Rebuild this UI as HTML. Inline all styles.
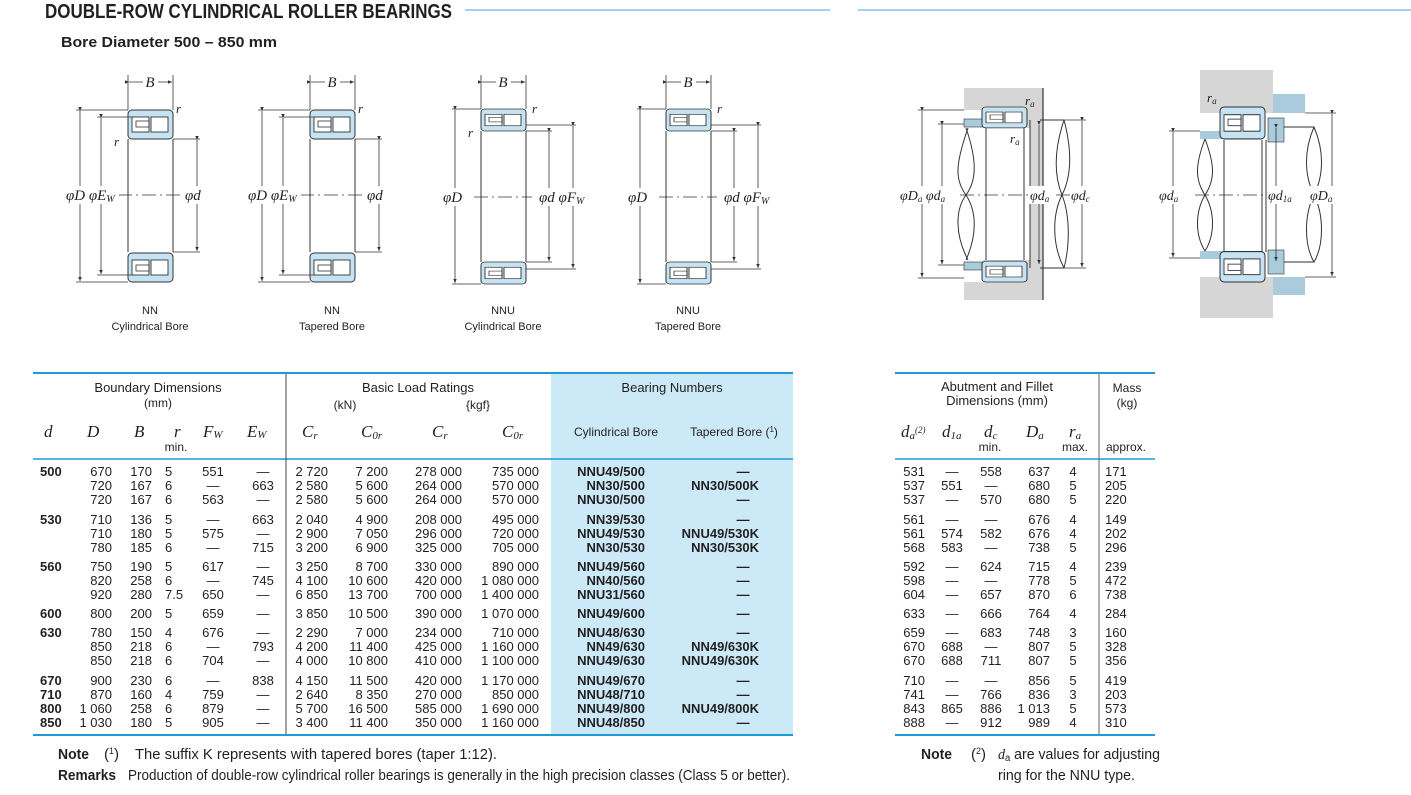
<!DOCTYPE html>
<html><head><meta charset="utf-8"><style>
html,body{margin:0;padding:0;background:#fff;}
svg{display:block;}
text{font-family:"Liberation Sans",Arial,sans-serif;fill:#231f20;}
.t{font-size:13px;}
.e{text-anchor:end;}
.m{text-anchor:middle;}
.b{font-weight:bold;}
text.s,.s text,.s tspan,tspan.s{font-family:"Liberation Serif",serif;font-style:italic;}
.h{font-size:13px;}
.c{font-size:11px;text-anchor:middle;}
.dl{stroke:#333;stroke-width:0.8;fill:none;}
.ln{stroke:#333;stroke-width:1;fill:none;}
</style></head><body>
<svg width="1411" height="795" viewBox="0 0 1411 795" xmlns="http://www.w3.org/2000/svg">
<defs>
<g id="rt">
<rect x="0" y="0" width="45" height="29" rx="4" fill="#c6e3f3" stroke="#333" stroke-width="1"/>
<rect x="4" y="7" width="17" height="15" fill="#fff" stroke="#333" stroke-width="0.9"/>
<rect x="23" y="7" width="17" height="15" fill="#fff" stroke="#333" stroke-width="0.9"/>
<rect x="8" y="11" width="13" height="6" fill="none" stroke="#333" stroke-width="0.8"/>
</g>
<marker id="ar" markerWidth="6" markerHeight="6" refX="5" refY="3" orient="auto"><path d="M0,0.8 L5,3 L0,5.2z" fill="#333"/></marker>
</defs>

<!-- Title -->
<text x="45" y="18" font-size="20" class="b" textLength="407" lengthAdjust="spacingAndGlyphs">DOUBLE-ROW CYLINDRICAL ROLLER BEARINGS</text>
<line x1="465" y1="10" x2="830" y2="10" stroke="#3fa9e0" stroke-width="1"/>
<line x1="858" y1="10" x2="1411" y2="10" stroke="#3fa9e0" stroke-width="1"/>
<text x="61" y="47" font-size="15" class="b" textLength="216" lengthAdjust="spacingAndGlyphs">Bore Diameter   500 – 850 mm</text>

<!-- Bearing 1 NN cyl -->
<g>
<use href="#rt" x="128" y="110"/>
<g transform="translate(128,282) scale(1,-1)"><use href="#rt"/></g>
<line class="ln" x1="128" y1="139" x2="128" y2="252"/><line class="ln" x1="173" y1="139" x2="173" y2="252"/>
<line class="dl" x1="128" y1="75" x2="128" y2="110"/><line class="dl" x1="173" y1="75" x2="173" y2="110"/>
<line class="dl" x1="129" y1="82" x2="172" y2="82" marker-end="url(#ar)" marker-start="url(#ar)"/>
<rect x="143" y="74" width="15" height="14" fill="#fff"/><text x="150" y="87" class="s m" font-size="15">B</text>
<line class="dl" x1="76" y1="110" x2="128" y2="110"/><line class="dl" x1="76" y1="282" x2="128" y2="282"/>
<line class="dl" x1="80" y1="111" x2="80" y2="281" marker-end="url(#ar)" marker-start="url(#ar)"/>
<line class="dl" x1="97" y1="117" x2="133" y2="117"/><line class="dl" x1="97" y1="275" x2="133" y2="275"/>
<line class="dl" x1="101" y1="118" x2="101" y2="274" marker-end="url(#ar)" marker-start="url(#ar)"/>
<line class="dl" x1="173" y1="139" x2="200" y2="139"/><line class="dl" x1="173" y1="252" x2="200" y2="252"/>
<line class="dl" x1="197" y1="140" x2="197" y2="251" marker-end="url(#ar)" marker-start="url(#ar)"/>
<line class="dl" x1="118" y1="195" x2="183" y2="195" stroke-dasharray="14,4,2,4"/>
<rect x="64" y="186" width="55" height="18" fill="#fff"/><text x="66" y="200" class="s" font-size="15">φD φE<tspan font-size="10" dy="2">W</tspan></text>
<rect x="183" y="186" width="25" height="18" fill="#fff"/><text x="185" y="200" class="s" font-size="15">φd</text>
<text x="176" y="113" class="s" font-size="13">r</text><text x="114" y="146" class="s" font-size="13">r</text>
<text x="150" y="314" class="c">NN</text><text x="150" y="330" class="c">Cylindrical Bore</text>
</g>
<!-- Bearing 2 NN tapered -->
<g transform="translate(182,0)">
<use href="#rt" x="128" y="110"/>
<g transform="translate(128,282) scale(1,-1)"><use href="#rt"/></g>
<line class="ln" x1="128" y1="139" x2="128" y2="252"/><line class="ln" x1="173" y1="139" x2="173" y2="252"/>
<line class="dl" x1="128" y1="75" x2="128" y2="110"/><line class="dl" x1="173" y1="75" x2="173" y2="110"/>
<line class="dl" x1="129" y1="82" x2="172" y2="82" marker-end="url(#ar)" marker-start="url(#ar)"/>
<rect x="143" y="74" width="15" height="14" fill="#fff"/><text x="150" y="87" class="s m" font-size="15">B</text>
<line class="dl" x1="76" y1="110" x2="128" y2="110"/><line class="dl" x1="76" y1="282" x2="128" y2="282"/>
<line class="dl" x1="80" y1="111" x2="80" y2="281" marker-end="url(#ar)" marker-start="url(#ar)"/>
<line class="dl" x1="97" y1="117" x2="133" y2="117"/><line class="dl" x1="97" y1="275" x2="133" y2="275"/>
<line class="dl" x1="101" y1="118" x2="101" y2="274" marker-end="url(#ar)" marker-start="url(#ar)"/>
<line class="dl" x1="173" y1="139" x2="200" y2="139"/><line class="dl" x1="173" y1="252" x2="200" y2="252"/>
<line class="dl" x1="197" y1="140" x2="197" y2="251" marker-end="url(#ar)" marker-start="url(#ar)"/>
<line class="dl" x1="118" y1="195" x2="183" y2="195" stroke-dasharray="14,4,2,4"/>
<rect x="64" y="186" width="55" height="18" fill="#fff"/><text x="66" y="200" class="s" font-size="15">φD φE<tspan font-size="10" dy="2">W</tspan></text>
<rect x="183" y="186" width="25" height="18" fill="#fff"/><text x="185" y="200" class="s" font-size="15">φd</text>
<text x="176" y="113" class="s" font-size="13">r</text>
<text x="150" y="314" class="c">NN</text><text x="150" y="330" class="c">Tapered Bore</text>
</g>
<!-- Bearing 3 NNU cyl -->
<g>
<g transform="translate(481,109) scale(1,0.76)"><use href="#rt"/></g>
<g transform="translate(481,284) scale(1,-0.76)"><use href="#rt"/></g>
<line class="ln" x1="481" y1="131" x2="481" y2="262"/><line class="ln" x1="526" y1="131" x2="526" y2="262"/>
<line class="dl" x1="481" y1="75" x2="481" y2="109"/><line class="dl" x1="526" y1="75" x2="526" y2="109"/>
<line class="dl" x1="482" y1="82" x2="525" y2="82" marker-end="url(#ar)" marker-start="url(#ar)"/>
<rect x="496" y="74" width="15" height="14" fill="#fff"/><text x="503" y="87" class="s m" font-size="15">B</text>
<line class="dl" x1="452" y1="109" x2="481" y2="109"/><line class="dl" x1="452" y1="284" x2="481" y2="284"/>
<line class="dl" x1="455" y1="110" x2="455" y2="283" marker-end="url(#ar)" marker-start="url(#ar)"/>
<line class="dl" x1="526" y1="131" x2="552" y2="131"/><line class="dl" x1="526" y1="262" x2="552" y2="262"/>
<line class="dl" x1="549" y1="132" x2="549" y2="261" marker-end="url(#ar)" marker-start="url(#ar)"/>
<line class="dl" x1="526" y1="125" x2="576" y2="125"/><line class="dl" x1="526" y1="269" x2="576" y2="269"/>
<line class="dl" x1="573" y1="126" x2="573" y2="268" marker-end="url(#ar)" marker-start="url(#ar)"/>
<line class="dl" x1="474" y1="197" x2="532" y2="197" stroke-dasharray="14,4,2,4"/>
<rect x="442" y="188" width="28" height="18" fill="#fff"/><text x="443" y="202" class="s" font-size="15">φD</text>
<rect x="538" y="188" width="55" height="18" fill="#fff"/><text x="539" y="202" class="s" font-size="15">φd φF<tspan font-size="10" dy="2">W</tspan></text>
<text x="532" y="113" class="s" font-size="13">r</text><text x="468" y="137" class="s" font-size="13">r</text>
<text x="503" y="314" class="c">NNU</text><text x="503" y="330" class="c">Cylindrical Bore</text>
</g>
<!-- Bearing 4 NNU tapered -->
<g transform="translate(185,0)">
<g transform="translate(481,109) scale(1,0.76)"><use href="#rt"/></g>
<g transform="translate(481,284) scale(1,-0.76)"><use href="#rt"/></g>
<line class="ln" x1="481" y1="131" x2="481" y2="262"/><line class="ln" x1="526" y1="131" x2="526" y2="262"/>
<line class="dl" x1="481" y1="75" x2="481" y2="109"/><line class="dl" x1="526" y1="75" x2="526" y2="109"/>
<line class="dl" x1="482" y1="82" x2="525" y2="82" marker-end="url(#ar)" marker-start="url(#ar)"/>
<rect x="496" y="74" width="15" height="14" fill="#fff"/><text x="503" y="87" class="s m" font-size="15">B</text>
<line class="dl" x1="452" y1="109" x2="481" y2="109"/><line class="dl" x1="452" y1="284" x2="481" y2="284"/>
<line class="dl" x1="455" y1="110" x2="455" y2="283" marker-end="url(#ar)" marker-start="url(#ar)"/>
<line class="dl" x1="526" y1="131" x2="552" y2="131"/><line class="dl" x1="526" y1="262" x2="552" y2="262"/>
<line class="dl" x1="549" y1="132" x2="549" y2="261" marker-end="url(#ar)" marker-start="url(#ar)"/>
<line class="dl" x1="526" y1="125" x2="576" y2="125"/><line class="dl" x1="526" y1="269" x2="576" y2="269"/>
<line class="dl" x1="573" y1="126" x2="573" y2="268" marker-end="url(#ar)" marker-start="url(#ar)"/>
<line class="dl" x1="474" y1="197" x2="532" y2="197" stroke-dasharray="14,4,2,4"/>
<rect x="442" y="188" width="28" height="18" fill="#fff"/><text x="443" y="202" class="s" font-size="15">φD</text>
<rect x="538" y="188" width="55" height="18" fill="#fff"/><text x="539" y="202" class="s" font-size="15">φd φF<tspan font-size="10" dy="2">W</tspan></text>
<text x="532" y="113" class="s" font-size="13">r</text>
<text x="503" y="314" class="c">NNU</text><text x="503" y="330" class="c">Tapered Bore</text>
</g>

<!-- Right figure 1 -->
<g>
<rect x="964" y="88" width="79" height="212" fill="#d6d6d6"/>
<rect x="964" y="128" width="66" height="132" fill="#fff"/>
<rect x="964" y="110" width="19" height="18" fill="#fff"/><rect x="964" y="260" width="19" height="22" fill="#fff"/>
<rect x="964" y="119" width="19" height="8" fill="#a9cbdc" stroke="#333" stroke-width="0.6"/>
<rect x="964" y="262" width="19" height="8" fill="#a9cbdc" stroke="#333" stroke-width="0.6"/>
<line x1="1043" y1="88" x2="1043" y2="300" stroke="#333" stroke-width="1.2"/>
<g transform="translate(982,107) scale(1,0.72)"><use href="#rt"/></g>
<g transform="translate(982,282) scale(1,-0.72)"><use href="#rt"/></g>
<line class="ln" x1="986" y1="128" x2="986" y2="260"/><line class="ln" x1="1024" y1="128" x2="1024" y2="260"/>
<line class="ln" x1="1030" y1="120" x2="1030" y2="268"/>
<path class="ln" d="M968,128 C955,165 955,180 966,195 C977,212 977,235 966,260"/>
<path class="ln" d="M966,128 C977,160 977,180 966,195 C955,210 955,235 968,260"/>
<path class="ln" d="M1040,120 L1064,120 C1072,150 1072,175 1062,195 C1052,215 1052,245 1064,268 L1040,268"/>
<path class="ln" d="M1064,120 C1054,150 1054,175 1062,195 C1070,215 1070,245 1064,268"/>
<line class="dl" x1="918" y1="110" x2="964" y2="110"/><line class="dl" x1="918" y1="278" x2="964" y2="278"/>
<line class="dl" x1="922" y1="111" x2="922" y2="277" marker-end="url(#ar)" marker-start="url(#ar)"/>
<line class="dl" x1="938" y1="124" x2="964" y2="124"/><line class="dl" x1="938" y1="265" x2="964" y2="265"/>
<line class="dl" x1="942" y1="125" x2="942" y2="264" marker-end="url(#ar)" marker-start="url(#ar)"/>
<line class="dl" x1="1039" y1="125" x2="1039" y2="264" marker-end="url(#ar)" marker-start="url(#ar)"/>
<line class="dl" x1="1064" y1="120" x2="1086" y2="120"/><line class="dl" x1="1064" y1="268" x2="1086" y2="268"/>
<line class="dl" x1="1082" y1="121" x2="1082" y2="267" marker-end="url(#ar)" marker-start="url(#ar)"/>
<line class="dl" x1="960" y1="195" x2="1070" y2="195" stroke-dasharray="14,4,2,4"/>
<rect x="898" y="186" width="62" height="18" fill="#fff"/><text x="900" y="200" class="s" font-size="14">φD<tspan font-size="9" dy="2">a</tspan><tspan dy="-2"> φd</tspan><tspan font-size="9" dy="2">a</tspan></text>
<rect x="1028" y="186" width="28" height="18" fill="#fff"/><text x="1030" y="200" class="s" font-size="14">φd<tspan font-size="9" dy="2">a</tspan></text>
<rect x="1070" y="186" width="28" height="18" fill="#fff"/><text x="1071" y="200" class="s" font-size="14">φd<tspan font-size="9" dy="2">c</tspan></text>
<text x="1025" y="105" class="s" font-size="13">r<tspan font-size="9" dy="2">a</tspan></text>
<text x="1010" y="143" class="s" font-size="13">r<tspan font-size="9" dy="2">a</tspan></text>
</g>
<!-- Right figure 2 -->
<g>
<rect x="1200" y="70" width="73" height="43" fill="#d6d6d6"/>
<rect x="1200" y="277" width="73" height="41" fill="#d6d6d6"/>
<rect x="1273" y="94" width="32" height="19" fill="#a9cbdc"/>
<rect x="1273" y="277" width="32" height="18" fill="#a9cbdc"/>
<rect x="1200" y="131" width="22" height="8" fill="#a9cbdc"/><rect x="1200" y="251" width="22" height="8" fill="#a9cbdc"/>
<rect x="1268" y="118" width="16" height="24" fill="#a9cbdc" stroke="#333" stroke-width="0.6"/>
<rect x="1268" y="250" width="16" height="24" fill="#a9cbdc" stroke="#333" stroke-width="0.6"/>
<g transform="translate(1220,107) scale(1,1.1)"><use href="#rt"/></g>
<g transform="translate(1220,282) scale(1,-1.05)"><use href="#rt"/></g>
<line class="ln" x1="1224" y1="140" x2="1224" y2="252"/><line class="ln" x1="1262" y1="140" x2="1262" y2="252"/>
<line class="ln" x1="1266" y1="140" x2="1266" y2="252"/>
<path class="ln" d="M1205,139 C1195,165 1195,180 1205,195 C1215,212 1215,235 1205,251"/>
<path class="ln" d="M1205,139 C1215,165 1215,180 1205,195 C1195,212 1195,235 1205,251"/>
<path class="ln" d="M1284,127 L1314,127 C1324,150 1324,175 1314,195 C1304,215 1304,245 1314,262 L1284,262"/>
<path class="ln" d="M1314,127 C1304,150 1304,175 1314,195 C1324,215 1324,245 1314,262"/>
<line class="dl" x1="1169" y1="131" x2="1200" y2="131"/><line class="dl" x1="1169" y1="258" x2="1200" y2="258"/>
<line class="dl" x1="1173" y1="132" x2="1173" y2="257" marker-end="url(#ar)" marker-start="url(#ar)"/>
<line class="dl" x1="1276" y1="128" x2="1276" y2="261" marker-end="url(#ar)" marker-start="url(#ar)"/>
<line class="dl" x1="1305" y1="113" x2="1336" y2="113"/><line class="dl" x1="1305" y1="277" x2="1336" y2="277"/>
<line class="dl" x1="1332" y1="114" x2="1332" y2="276" marker-end="url(#ar)" marker-start="url(#ar)"/>
<line class="dl" x1="1195" y1="195" x2="1320" y2="195" stroke-dasharray="14,4,2,4"/>
<rect x="1158" y="186" width="28" height="18" fill="#fff"/><text x="1159" y="200" class="s" font-size="14">φd<tspan font-size="9" dy="2">a</tspan></text>
<rect x="1267" y="186" width="38" height="18" fill="#fff"/><text x="1268" y="200" class="s" font-size="14">φd<tspan font-size="9" dy="2">1a</tspan></text>
<rect x="1309" y="186" width="36" height="18" fill="#fff"/><text x="1310" y="200" class="s" font-size="14">φD<tspan font-size="9" dy="2">a</tspan></text>
<text x="1207" y="102" class="s" font-size="13">r<tspan font-size="9" dy="2">a</tspan></text>
</g>

<!-- Left table frame -->
<rect x="551" y="374" width="242" height="361" fill="#cce9f8"/>
<line x1="33" y1="373" x2="793" y2="373" stroke="#1e9ad6" stroke-width="2"/>
<line x1="33" y1="459" x2="793" y2="459" stroke="#1e9ad6" stroke-width="1.5"/>
<line x1="33" y1="735" x2="793" y2="735" stroke="#1e9ad6" stroke-width="2"/>
<line x1="286" y1="374" x2="286" y2="734" stroke="#444" stroke-width="1"/>
<!-- Right table frame -->
<line x1="895" y1="373" x2="1155" y2="373" stroke="#1e9ad6" stroke-width="2"/>
<line x1="895" y1="459" x2="1155" y2="459" stroke="#1e9ad6" stroke-width="1.5"/>
<line x1="895" y1="735" x2="1155" y2="735" stroke="#1e9ad6" stroke-width="2"/>
<line x1="1099" y1="374" x2="1099" y2="734" stroke="#666" stroke-width="1"/>

<!-- headers -->
<g class="h">
<text x="158" y="392" class="m" font-size="13">Boundary Dimensions</text>
<text x="158" y="407" class="m" font-size="12">(mm)</text>
<text x="418" y="392" class="m" font-size="13">Basic Load Ratings</text>
<text x="345" y="409" class="m" font-size="12">(kN)</text>
<text x="478" y="409" class="m" font-size="12">{kgf}</text>
<text x="672" y="392" class="m" font-size="13">Bearing Numbers</text>
<text x="616" y="436" class="m" font-size="12">Cylindrical Bore</text>
<text x="734" y="436" class="m" font-size="12">Tapered Bore (<tspan font-size="8" dy="-4">1</tspan><tspan dy="4">)</tspan></text>
<text x="997" y="391" class="m" font-size="13">Abutment and Fillet</text>
<text x="997" y="405" class="m" font-size="13">Dimensions (mm)</text>
<text x="1127" y="392" class="m" font-size="12">Mass</text>
<text x="1127" y="407" class="m" font-size="12">(kg)</text>
</g>
<g class="s" font-size="17">
<text x="44" y="437">d</text><text x="87" y="437">D</text><text x="134" y="437">B</text><text x="174" y="437">r</text>
<text x="203" y="437">F<tspan font-size="11" dy="1">W</tspan></text>
<text x="247" y="437">E<tspan font-size="11" dy="1">W</tspan></text>
<text x="302" y="437">C<tspan font-size="11" dy="2">r</tspan></text>
<text x="361" y="437">C<tspan font-size="11" dy="2">0r</tspan></text>
<text x="432" y="437">C<tspan font-size="11" dy="2">r</tspan></text>
<text x="502" y="437">C<tspan font-size="11" dy="2">0r</tspan></text>
<text x="901" y="437">d<tspan font-size="11" dy="2">a</tspan><tspan font-size="9" dy="-6" font-style="normal">(2)</tspan></text>
<text x="942" y="437">d<tspan font-size="11" dy="2">1a</tspan></text>
<text x="984" y="437">d<tspan font-size="11" dy="2">c</tspan></text>
<text x="1026" y="437">D<tspan font-size="11" dy="2">a</tspan></text>
<text x="1069" y="437">r<tspan font-size="11" dy="2">a</tspan></text>
</g>
<text x="176" y="451" class="m" font-size="12">min.</text>
<text x="990" y="451" class="m" font-size="12">min.</text>
<text x="1075" y="451" class="m" font-size="12">max.</text>
<text x="1126" y="451" class="m" font-size="12">approx.</text>

<!-- data -->
<g class="t">
<text x="40" y="476" class="b">500</text><text x="112" y="476" class="e">670</text><text x="152" y="476" class="e">170</text><text x="165" y="476">5</text><text x="213" y="476" class="m">551</text><text x="263" y="476" class="m">—</text><text x="328" y="476" class="e">2 720</text><text x="388" y="476" class="e">7 200</text><text x="462" y="476" class="e">278 000</text><text x="539" y="476" class="e">735 000</text><text x="645" y="476" class="e b">NNU49/500</text><text x="743" y="476" class="m b">—</text><text x="925" y="476" class="e">531</text><text x="952" y="476" class="m">—</text><text x="991" y="476" class="m">558</text><text x="1050" y="476" class="e">637</text><text x="1073" y="476" class="m">4</text><text x="1105" y="476">171</text>
<text x="112" y="490" class="e">720</text><text x="152" y="490" class="e">167</text><text x="165" y="490">6</text><text x="213" y="490" class="m">—</text><text x="263" y="490" class="m">663</text><text x="328" y="490" class="e">2 580</text><text x="388" y="490" class="e">5 600</text><text x="462" y="490" class="e">264 000</text><text x="539" y="490" class="e">570 000</text><text x="645" y="490" class="e b">NN30/500</text><text x="759" y="490" class="e b">NN30/500K</text><text x="925" y="490" class="e">537</text><text x="952" y="490" class="m">551</text><text x="991" y="490" class="m">—</text><text x="1050" y="490" class="e">680</text><text x="1073" y="490" class="m">5</text><text x="1105" y="490">205</text>
<text x="112" y="504" class="e">720</text><text x="152" y="504" class="e">167</text><text x="165" y="504">6</text><text x="213" y="504" class="m">563</text><text x="263" y="504" class="m">—</text><text x="328" y="504" class="e">2 580</text><text x="388" y="504" class="e">5 600</text><text x="462" y="504" class="e">264 000</text><text x="539" y="504" class="e">570 000</text><text x="645" y="504" class="e b">NNU30/500</text><text x="743" y="504" class="m b">—</text><text x="925" y="504" class="e">537</text><text x="952" y="504" class="m">—</text><text x="991" y="504" class="m">570</text><text x="1050" y="504" class="e">680</text><text x="1073" y="504" class="m">5</text><text x="1105" y="504">220</text>

<text x="40" y="524" class="b">530</text><text x="112" y="524" class="e">710</text><text x="152" y="524" class="e">136</text><text x="165" y="524">5</text><text x="213" y="524" class="m">—</text><text x="263" y="524" class="m">663</text><text x="328" y="524" class="e">2 040</text><text x="388" y="524" class="e">4 900</text><text x="462" y="524" class="e">208 000</text><text x="539" y="524" class="e">495 000</text><text x="645" y="524" class="e b">NN39/530</text><text x="743" y="524" class="m b">—</text><text x="925" y="524" class="e">561</text><text x="952" y="524" class="m">—</text><text x="991" y="524" class="m">—</text><text x="1050" y="524" class="e">676</text><text x="1073" y="524" class="m">4</text><text x="1105" y="524">149</text>
<text x="112" y="538" class="e">710</text><text x="152" y="538" class="e">180</text><text x="165" y="538">5</text><text x="213" y="538" class="m">575</text><text x="263" y="538" class="m">—</text><text x="328" y="538" class="e">2 900</text><text x="388" y="538" class="e">7 050</text><text x="462" y="538" class="e">296 000</text><text x="539" y="538" class="e">720 000</text><text x="645" y="538" class="e b">NNU49/530</text><text x="759" y="538" class="e b">NNU49/530K</text><text x="925" y="538" class="e">561</text><text x="952" y="538" class="m">574</text><text x="991" y="538" class="m">582</text><text x="1050" y="538" class="e">676</text><text x="1073" y="538" class="m">4</text><text x="1105" y="538">202</text>
<text x="112" y="552" class="e">780</text><text x="152" y="552" class="e">185</text><text x="165" y="552">6</text><text x="213" y="552" class="m">—</text><text x="263" y="552" class="m">715</text><text x="328" y="552" class="e">3 200</text><text x="388" y="552" class="e">6 900</text><text x="462" y="552" class="e">325 000</text><text x="539" y="552" class="e">705 000</text><text x="645" y="552" class="e b">NN30/530</text><text x="759" y="552" class="e b">NN30/530K</text><text x="925" y="552" class="e">568</text><text x="952" y="552" class="m">583</text><text x="991" y="552" class="m">—</text><text x="1050" y="552" class="e">738</text><text x="1073" y="552" class="m">5</text><text x="1105" y="552">296</text>

<text x="40" y="571" class="b">560</text><text x="112" y="571" class="e">750</text><text x="152" y="571" class="e">190</text><text x="165" y="571">5</text><text x="213" y="571" class="m">617</text><text x="263" y="571" class="m">—</text><text x="328" y="571" class="e">3 250</text><text x="388" y="571" class="e">8 700</text><text x="462" y="571" class="e">330 000</text><text x="539" y="571" class="e">890 000</text><text x="645" y="571" class="e b">NNU49/560</text><text x="743" y="571" class="m b">—</text><text x="925" y="571" class="e">592</text><text x="952" y="571" class="m">—</text><text x="991" y="571" class="m">624</text><text x="1050" y="571" class="e">715</text><text x="1073" y="571" class="m">4</text><text x="1105" y="571">239</text>
<text x="112" y="585" class="e">820</text><text x="152" y="585" class="e">258</text><text x="165" y="585">6</text><text x="213" y="585" class="m">—</text><text x="263" y="585" class="m">745</text><text x="328" y="585" class="e">4 100</text><text x="388" y="585" class="e">10 600</text><text x="462" y="585" class="e">420 000</text><text x="539" y="585" class="e">1 080 000</text><text x="645" y="585" class="e b">NN40/560</text><text x="743" y="585" class="m b">—</text><text x="925" y="585" class="e">598</text><text x="952" y="585" class="m">—</text><text x="991" y="585" class="m">—</text><text x="1050" y="585" class="e">778</text><text x="1073" y="585" class="m">5</text><text x="1105" y="585">472</text>
<text x="112" y="599" class="e">920</text><text x="152" y="599" class="e">280</text><text x="165" y="599">7.5</text><text x="213" y="599" class="m">650</text><text x="263" y="599" class="m">—</text><text x="328" y="599" class="e">6 850</text><text x="388" y="599" class="e">13 700</text><text x="462" y="599" class="e">700 000</text><text x="539" y="599" class="e">1 400 000</text><text x="645" y="599" class="e b">NNU31/560</text><text x="743" y="599" class="m b">—</text><text x="925" y="599" class="e">604</text><text x="952" y="599" class="m">—</text><text x="991" y="599" class="m">657</text><text x="1050" y="599" class="e">870</text><text x="1073" y="599" class="m">6</text><text x="1105" y="599">738</text>

<text x="40" y="618" class="b">600</text><text x="112" y="618" class="e">800</text><text x="152" y="618" class="e">200</text><text x="165" y="618">5</text><text x="213" y="618" class="m">659</text><text x="263" y="618" class="m">—</text><text x="328" y="618" class="e">3 850</text><text x="388" y="618" class="e">10 500</text><text x="462" y="618" class="e">390 000</text><text x="539" y="618" class="e">1 070 000</text><text x="645" y="618" class="e b">NNU49/600</text><text x="743" y="618" class="m b">—</text><text x="925" y="618" class="e">633</text><text x="952" y="618" class="m">—</text><text x="991" y="618" class="m">666</text><text x="1050" y="618" class="e">764</text><text x="1073" y="618" class="m">4</text><text x="1105" y="618">284</text>

<text x="40" y="637" class="b">630</text><text x="112" y="637" class="e">780</text><text x="152" y="637" class="e">150</text><text x="165" y="637">4</text><text x="213" y="637" class="m">676</text><text x="263" y="637" class="m">—</text><text x="328" y="637" class="e">2 290</text><text x="388" y="637" class="e">7 000</text><text x="462" y="637" class="e">234 000</text><text x="539" y="637" class="e">710 000</text><text x="645" y="637" class="e b">NNU48/630</text><text x="743" y="637" class="m b">—</text><text x="925" y="637" class="e">659</text><text x="952" y="637" class="m">—</text><text x="991" y="637" class="m">683</text><text x="1050" y="637" class="e">748</text><text x="1073" y="637" class="m">3</text><text x="1105" y="637">160</text>
<text x="112" y="651" class="e">850</text><text x="152" y="651" class="e">218</text><text x="165" y="651">6</text><text x="213" y="651" class="m">—</text><text x="263" y="651" class="m">793</text><text x="328" y="651" class="e">4 200</text><text x="388" y="651" class="e">11 400</text><text x="462" y="651" class="e">425 000</text><text x="539" y="651" class="e">1 160 000</text><text x="645" y="651" class="e b">NN49/630</text><text x="759" y="651" class="e b">NN49/630K</text><text x="925" y="651" class="e">670</text><text x="952" y="651" class="m">688</text><text x="991" y="651" class="m">—</text><text x="1050" y="651" class="e">807</text><text x="1073" y="651" class="m">5</text><text x="1105" y="651">328</text>
<text x="112" y="665" class="e">850</text><text x="152" y="665" class="e">218</text><text x="165" y="665">6</text><text x="213" y="665" class="m">704</text><text x="263" y="665" class="m">—</text><text x="328" y="665" class="e">4 000</text><text x="388" y="665" class="e">10 800</text><text x="462" y="665" class="e">410 000</text><text x="539" y="665" class="e">1 100 000</text><text x="645" y="665" class="e b">NNU49/630</text><text x="759" y="665" class="e b">NNU49/630K</text><text x="925" y="665" class="e">670</text><text x="952" y="665" class="m">688</text><text x="991" y="665" class="m">711</text><text x="1050" y="665" class="e">807</text><text x="1073" y="665" class="m">5</text><text x="1105" y="665">356</text>

<text x="40" y="685" class="b">670</text><text x="112" y="685" class="e">900</text><text x="152" y="685" class="e">230</text><text x="165" y="685">6</text><text x="213" y="685" class="m">—</text><text x="263" y="685" class="m">838</text><text x="328" y="685" class="e">4 150</text><text x="388" y="685" class="e">11 500</text><text x="462" y="685" class="e">420 000</text><text x="539" y="685" class="e">1 170 000</text><text x="645" y="685" class="e b">NNU49/670</text><text x="743" y="685" class="m b">—</text><text x="925" y="685" class="e">710</text><text x="952" y="685" class="m">—</text><text x="991" y="685" class="m">—</text><text x="1050" y="685" class="e">856</text><text x="1073" y="685" class="m">5</text><text x="1105" y="685">419</text>
<text x="40" y="699" class="b">710</text><text x="112" y="699" class="e">870</text><text x="152" y="699" class="e">160</text><text x="165" y="699">4</text><text x="213" y="699" class="m">759</text><text x="263" y="699" class="m">—</text><text x="328" y="699" class="e">2 640</text><text x="388" y="699" class="e">8 350</text><text x="462" y="699" class="e">270 000</text><text x="539" y="699" class="e">850 000</text><text x="645" y="699" class="e b">NNU48/710</text><text x="743" y="699" class="m b">—</text><text x="925" y="699" class="e">741</text><text x="952" y="699" class="m">—</text><text x="991" y="699" class="m">766</text><text x="1050" y="699" class="e">836</text><text x="1073" y="699" class="m">3</text><text x="1105" y="699">203</text>
<text x="40" y="713" class="b">800</text><text x="112" y="713" class="e">1 060</text><text x="152" y="713" class="e">258</text><text x="165" y="713">6</text><text x="213" y="713" class="m">879</text><text x="263" y="713" class="m">—</text><text x="328" y="713" class="e">5 700</text><text x="388" y="713" class="e">16 500</text><text x="462" y="713" class="e">585 000</text><text x="539" y="713" class="e">1 690 000</text><text x="645" y="713" class="e b">NNU49/800</text><text x="759" y="713" class="e b">NNU49/800K</text><text x="925" y="713" class="e">843</text><text x="952" y="713" class="m">865</text><text x="991" y="713" class="m">886</text><text x="1050" y="713" class="e">1 013</text><text x="1073" y="713" class="m">5</text><text x="1105" y="713">573</text>
<text x="40" y="727" class="b">850</text><text x="112" y="727" class="e">1 030</text><text x="152" y="727" class="e">180</text><text x="165" y="727">5</text><text x="213" y="727" class="m">905</text><text x="263" y="727" class="m">—</text><text x="328" y="727" class="e">3 400</text><text x="388" y="727" class="e">11 400</text><text x="462" y="727" class="e">350 000</text><text x="539" y="727" class="e">1 160 000</text><text x="645" y="727" class="e b">NNU48/850</text><text x="743" y="727" class="m b">—</text><text x="925" y="727" class="e">888</text><text x="952" y="727" class="m">—</text><text x="991" y="727" class="m">912</text><text x="1050" y="727" class="e">989</text><text x="1073" y="727" class="m">4</text><text x="1105" y="727">310</text>
</g>

<!-- notes -->
<g font-size="15">
<text x="58" y="759" class="b" textLength="31" lengthAdjust="spacingAndGlyphs">Note</text>
<text x="104" y="759">(<tspan font-size="9" dy="-5">1</tspan><tspan dy="5">)</tspan></text>
<text x="135" y="759" textLength="362" lengthAdjust="spacingAndGlyphs">The suffix K represents with tapered bores (taper 1:12).</text>
<text x="58" y="780" class="b" textLength="58" lengthAdjust="spacingAndGlyphs">Remarks</text>
<text x="128" y="780" textLength="662" lengthAdjust="spacingAndGlyphs">Production of double-row cylindrical roller bearings is generally in the high precision classes (Class 5 or better).</text>
<text x="921" y="759" class="b" textLength="31" lengthAdjust="spacingAndGlyphs">Note</text>
<text x="971" y="759">(<tspan font-size="9" dy="-5">2</tspan><tspan dy="5">)</tspan></text>
<text x="998" y="759" textLength="162" lengthAdjust="spacingAndGlyphs"><tspan class="s">d</tspan><tspan font-size="10" dy="2">a</tspan><tspan dy="-2"> are values for adjusting</tspan></text>
<text x="998" y="780" textLength="137" lengthAdjust="spacingAndGlyphs">ring for the NNU type.</text>
</g>
</svg>
</body></html>
